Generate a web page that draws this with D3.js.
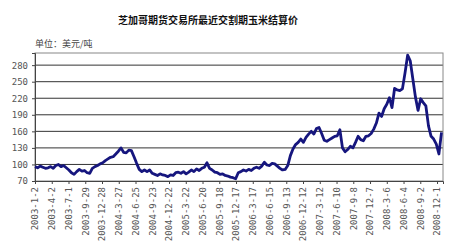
<!DOCTYPE html>
<html>
<head>
<meta charset="utf-8">
<script src="https://cdn.jsdelivr.net/npm/d3@7"></script>
<style>
  body { margin: 0; background: #fff; }
  .tick text { font-family: "DejaVu Sans Mono", monospace; fill: #555; }
</style>
</head>
<body>
<div id="chart"></div>
<script>
const width = 450
const height = 250
const margin = { top: 53, bottom: 69, left: 35, right: 7 }

const title = "芝加哥期货交易所最近交割期玉米结算价"
const unitLabel = "单位：美元/吨"

// settlement prices, one value every 14 days from 2003-1-2
const startDate = "2003-01-02"
const stepDays = 14
const prices = [
  96, 94, 97, 95, 93, 94, 96, 93, 98, 100, 96, 98, 94, 90, 85, 82, 87, 91, 88, 89,
  85, 84, 93, 96, 98, 101, 103, 107, 110, 113, 114, 119, 124, 130, 122, 121, 126, 125, 114, 102,
  91, 87, 90, 87, 90, 84, 82, 80, 83, 81, 80, 78, 81, 80, 85, 86, 84, 87, 83, 86,
  90, 87, 92, 89, 93, 95, 103, 93, 90, 86, 85, 82, 83, 80, 79, 77, 76, 74, 85, 87,
  90, 88, 91, 89, 93, 95, 93, 97, 104, 99, 98, 102, 101, 97, 93, 90, 91, 98, 116, 128,
  136, 140, 146, 140, 149, 155, 160, 155, 165, 167, 156, 144, 142, 145, 148, 151, 152, 163, 130, 123,
  127, 133, 130, 140, 151, 145, 143, 151, 152, 156, 164, 175, 193, 187, 201, 209, 221, 203, 238, 235,
  234, 237, 266, 298, 288, 255, 222, 198, 219, 212, 206, 170, 151, 146, 137, 119, 158
]

const yTicks = [70, 100, 130, 160, 190, 220, 250, 280]
const xTickLabels = [
  "2003-1-2", "2003-4-2", "2003-7-1", "2003-9-29", "2003-12-28", "2004-3-27", "2004-6-25",
  "2004-9-23", "2004-12-22", "2005-3-22", "2005-6-20", "2005-9-18", "2005-12-17", "2006-3-17",
  "2006-6-15", "2006-9-13", "2006-12-12", "2007-3-12", "2007-6-10", "2007-9-8", "2007-12-7",
  "2008-3-6", "2008-6-4", "2008-9-2", "2008-12-1"
]
const axisEnd = "2009-01-02"

const parse = d3.timeParse("%Y-%m-%d")
const start = parse(startDate)
const data = prices.map((p, i) => ({ date: d3.timeDay.offset(start, i * stepDays), value: p }))
const tickDates = xTickLabels.map(s => {
  const [y, m, d] = s.split("-").map(Number)
  return new Date(y, m - 1, d)
})

const svg = d3.select("div#chart").append("svg").attr("width", width).attr("height", height)

const x = d3.scaleTime().domain([start, parse(axisEnd)]).range([margin.left, width - margin.right])
const y = d3.scaleLinear().domain([70, 302]).range([height - margin.bottom, margin.top])

svg.append("text").text(title)
    .attr("x", 208).attr("y", 24)
    .attr("text-anchor", "middle")
    .style("font-family", "Noto Sans CJK SC").style("font-size", "10px").style("font-weight", "bold")
    .attr("fill", "#111")

svg.append("text").text(unitLabel)
    .attr("x", 35).attr("y", 47)
    .style("font-family", "Noto Sans CJK SC").style("font-size", "9px")
    .attr("fill", "#444")

// gridlines
svg.append("g").selectAll("line").data(yTicks.slice(1)).enter().append("line")
    .attr("x1", margin.left).attr("x2", width - margin.right)
    .attr("y1", d => y(d)).attr("y2", d => y(d))
    .attr("stroke", "#333").attr("stroke-width", 1)

// plot frame
svg.append("rect")
    .attr("x", margin.left).attr("y", margin.top)
    .attr("width", width - margin.left - margin.right)
    .attr("height", height - margin.top - margin.bottom)
    .attr("fill", "none").attr("stroke", "#888").attr("stroke-width", 1)

const yAxis = d3.axisLeft(y).tickValues(yTicks).tickSize(3).tickPadding(4)
const yAxisGroup = svg.append("g").attr("transform", `translate(${margin.left}, 0)`).call(yAxis)
yAxisGroup.select(".domain").attr("stroke", "#444")
yAxisGroup.selectAll(".tick line").attr("stroke", "#444")
yAxisGroup.selectAll(".tick text").style("font-size", "9px")

const xAxis = d3.axisBottom(x).tickValues(tickDates).tickSize(3).tickFormat((d, i) => xTickLabels[i])
const xAxisGroup = svg.append("g").attr("transform", `translate(0, ${height - margin.bottom})`).call(xAxis)
xAxisGroup.select(".domain").attr("stroke", "#444")
xAxisGroup.selectAll(".tick line").attr("stroke", "#444")
xAxisGroup.selectAll(".tick text")
    .style("font-size", "9px")
    .attr("text-anchor", "end")
    .attr("transform", "rotate(-90)")
    .attr("x", -6).attr("y", 0).attr("dy", "0.32em")

const line = d3.line().x(d => x(d.date)).y(d => y(d.value))
svg.append("path").datum(data)
    .attr("d", line)
    .attr("fill", "none")
    .attr("stroke", "#16167e")
    .attr("stroke-width", 2.8)
    .attr("stroke-linejoin", "round")
</script>
</body>
</html>
